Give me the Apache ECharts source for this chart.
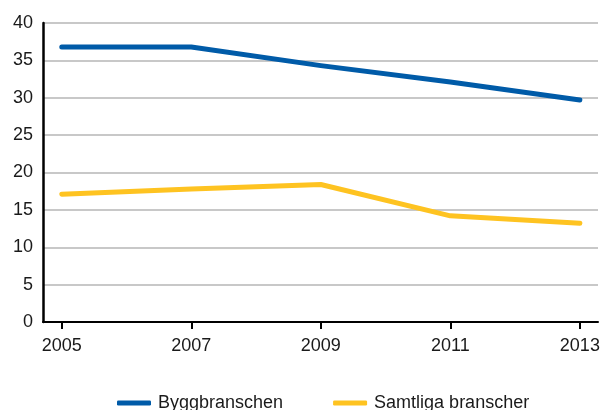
<!DOCTYPE html>
<html>
<head>
<meta charset="utf-8">
<script src="https://cdn.jsdelivr.net/npm/echarts@6/dist/echarts.min.js"></script>
<style>
  html, body { margin: 0; padding: 0; background: #fff; }
  #chart { width: 603px; height: 410px; }
</style>
</head>
<body>
<div id="chart"></div>
<script>
// values
const years = [2005, 2007, 2009, 2011, 2013];
const byggbranschen = [36.8, 36.8, 34.3, 32.1, 29.7];
const samtliga = [17.1, 17.8, 18.4, 14.2, 13.2];
const seriesNames = ["Byggbranschen", "Samtliga branscher"];
const yTicks = [0, 5, 10, 15, 20, 25, 30, 35, 40];

const pairs = (vals) => years.map((y, i) => [y, vals[i]]);

const chart = echarts.init(document.getElementById("chart"));

const font = "'Liberation Sans', Arial, sans-serif";

chart.setOption({
  animation: false,
  textStyle: { fontFamily: font },
  grid: { left: 43, right: 5, top: 23, bottom: 88 },
  legend: {
    left: 117,
    top: 394,
    padding: 0,
    itemGap: 50,
    icon: "roundRect",
    itemWidth: 34,
    itemHeight: 5,
    textStyle: { fontSize: 18, color: "#1a1a1a", fontFamily: font, padding: [3, 0, 0, 2] },
    data: seriesNames
  },
  xAxis: {
    type: "value",
    min: 2004.71,
    max: 2013.28,
    axisLine: { show: true, lineStyle: { color: "#000", width: 2 } },
    axisTick: { show: true, length: 7, lineStyle: { color: "#000", width: 2 }, customValues: years },
    axisLabel: {
      customValues: years,
      fontSize: 18,
      color: "#1a1a1a",
      margin: 15,
      fontFamily: font,
      formatter: (v) => String(v)
    },
    splitLine: { show: false }
  },
  yAxis: {
    type: "value",
    min: 0,
    max: 40,
    interval: 5,
    axisLine: { show: true, lineStyle: { color: "#000", width: 2.5 } },
    axisTick: { show: false },
    axisLabel: {
      fontSize: 18,
      color: "#1a1a1a",
      margin: 10,
      fontFamily: font,
      formatter: (v) => (yTicks.includes(v) ? String(v) : "")
    },
    splitLine: { show: true, lineStyle: { color: "#c8c8c8", width: 2 } }
  },
  series: [
    {
      name: seriesNames[0],
      type: "line",
      data: pairs(byggbranschen),
      showSymbol: false,
      symbol: "none",
      itemStyle: { color: "#005ba8" },
      lineStyle: { color: "#005ba8", width: 5, cap: "round", join: "round" }
    },
    {
      name: seriesNames[1],
      type: "line",
      data: pairs(samtliga),
      showSymbol: false,
      symbol: "none",
      itemStyle: { color: "#fec321" },
      lineStyle: { color: "#fec321", width: 5, cap: "round", join: "round" }
    }
  ]
});
</script>
</body>
</html>
